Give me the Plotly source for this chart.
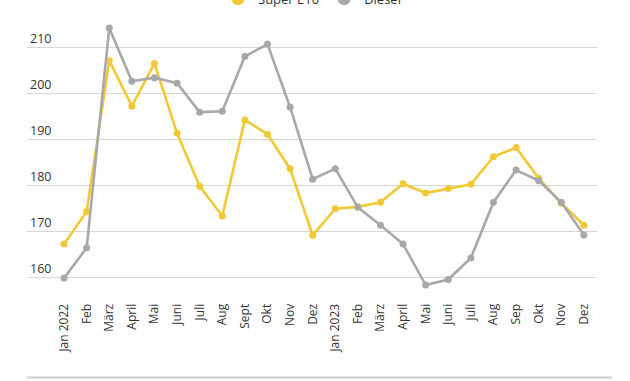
import plotly.graph_objects as go

months = ["Jan 2022", "Feb", "März", "April", "Mai", "Juni", "Juli", "Aug", "Sept", "Okt", "Nov", "Dez",
          "Jan 2023", "Feb", "März", "April", "Mai", "Juni", "Juli", "Aug", "Sep", "Okt", "Nov", "Dez"]
super_e10 = [167.2, 174.3, 207.1, 197.2, 206.5, 191.3, 179.8, 173.3, 194.2, 191.1, 183.6, 169.1,
             174.9, 175.3, 176.3, 180.3, 178.3, 179.3, 180.2, 186.2, 188.2, 181.5, 176.1, 171.3]
diesel = [159.8, 166.4, 214.2, 202.6, 203.4, 202.2, 195.9, 196.1, 208.0, 210.7, 197.0, 181.3,
          183.6, 175.2, 171.3, 167.2, 158.3, 159.5, 164.2, 176.3, 183.3, 181.0, 176.3, 169.2]
y_ticks = [160, 170, 180, 190, 200, 210]

YELLOW = "#f1c935"
GRAY = "#a8a8aa"

x = list(range(len(months)))

fig = go.Figure()
fig.add_trace(go.Scatter(x=x, y=super_e10, mode="lines+markers", name="Super E10", showlegend=False,
                         line=dict(color=YELLOW, width=2.6), marker=dict(color=YELLOW, size=7)))
fig.add_trace(go.Scatter(x=x, y=diesel, mode="lines+markers", name="Diesel", showlegend=False,
                         line=dict(color=GRAY, width=2.6), marker=dict(color=GRAY, size=7)))
# legend-only entries (circle symbols)
fig.add_trace(go.Scatter(x=[None], y=[None], mode="markers", name="Super E10",
                         marker=dict(color=YELLOW, size=13)))
fig.add_trace(go.Scatter(x=[None], y=[None], mode="markers", name="Diesel",
                         marker=dict(color=GRAY, size=13)))

fig.update_layout(
    width=630, height=381,
    margin=dict(l=27, r=33, t=22, b=90, autoexpand=False),
    paper_bgcolor="white", plot_bgcolor="white",
    font=dict(family="Open Sans", size=12, color="#333333"),
    legend=dict(orientation="h", x=0.5, xanchor="center", y=1.087, yanchor="middle",
                font=dict(size=13, color="#333333"), bgcolor="rgba(0,0,0,0)"),
    xaxis=dict(tickmode="array", tickvals=x, ticktext=months, tickangle=-90,
               range=[-1.64, 23.58], showgrid=False, zeroline=False, showline=False,
               ticks="outside", ticklen=7, tickcolor="rgba(0,0,0,0)",
               tickfont=dict(size=12, color="#333333")),
    yaxis=dict(range=[157, 215.5], tickvals=y_ticks, showgrid=True, gridcolor="#d6d6d6",
               gridwidth=1.3, zeroline=False, showline=False, ticklabelposition="inside top",
               tickfont=dict(size=12.5, color="#333333")),
    shapes=[dict(type="line", xref="paper", yref="paper", x0=0, x1=1.026, y0=-0.3216, y1=-0.3216,
                 line=dict(color="#cfcfcf", width=2))],
)

fig.write_html("out.html", config={"displayModeBar": False},
               post_script="document.body.style.margin='0';document.body.style.padding='0';")
